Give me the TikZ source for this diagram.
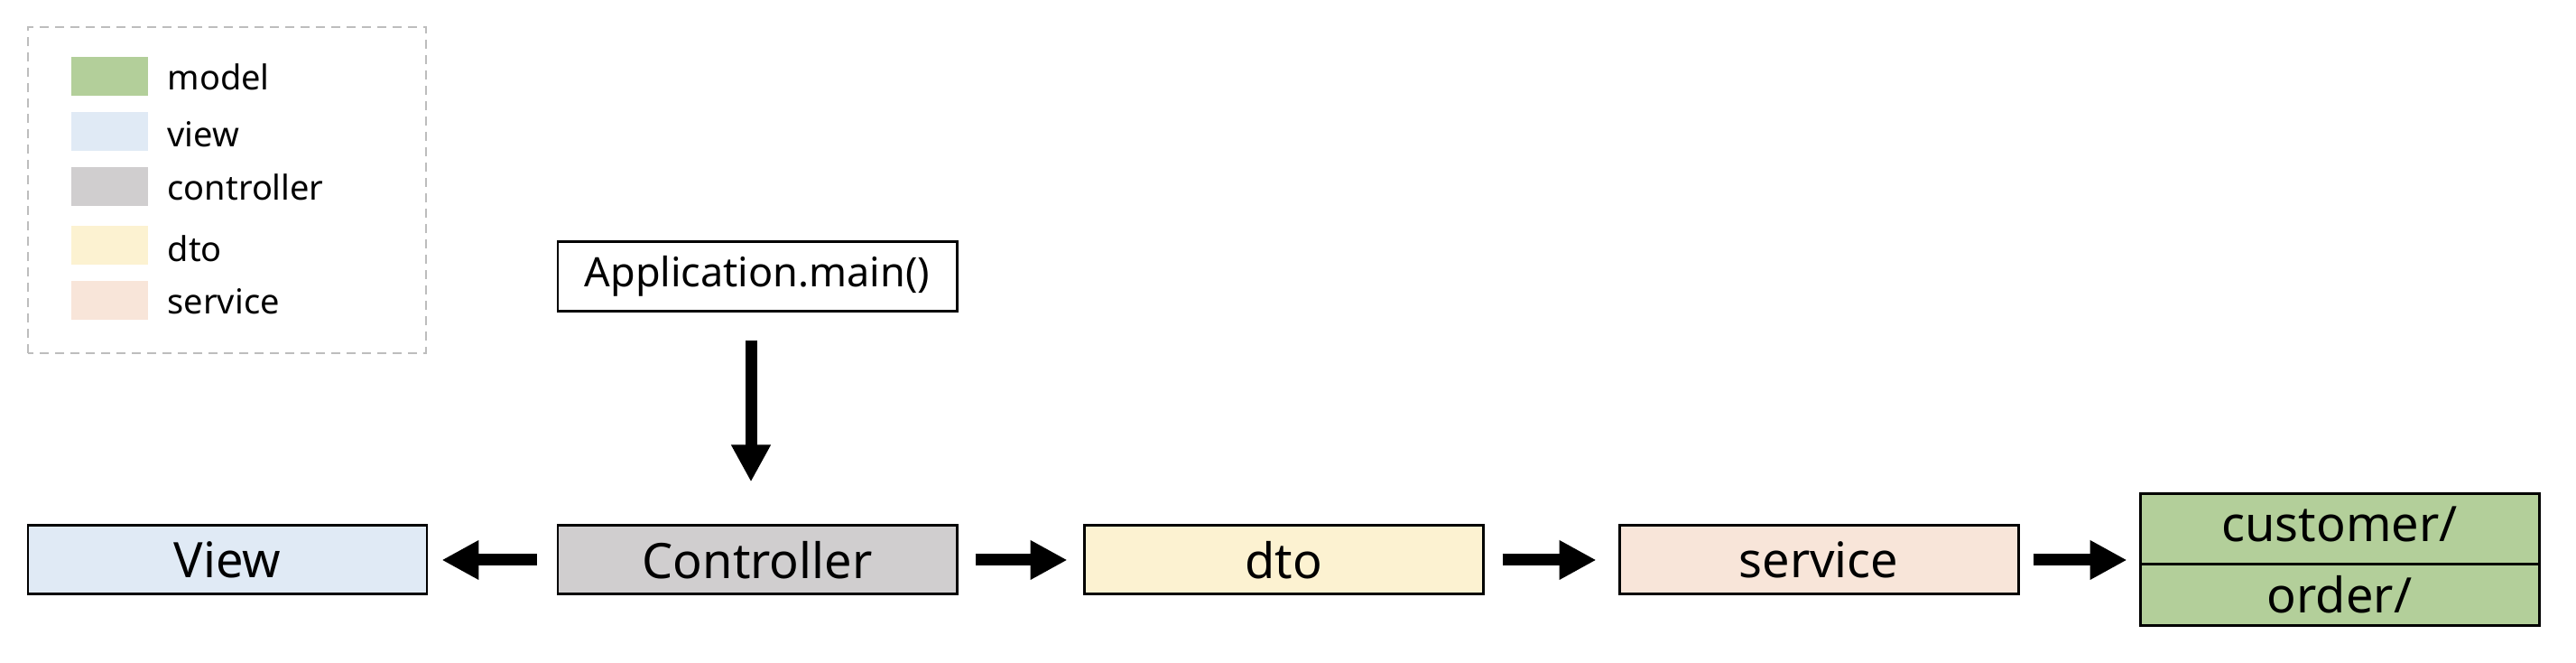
\documentclass[tikz,border=0pt]{standalone}
\usepackage{fontspec}
\setmainfont{Noto Sans}
\usetikzlibrary{arrows.meta,shapes.multipart}
\definecolor{modelc}{HTML}{B3CF9A}
\definecolor{viewc}{HTML}{E0EAF5}
\definecolor{ctrlc}{HTML}{D0CECF}
\definecolor{dtoc}{HTML}{FCF2D1}
\definecolor{servc}{HTML}{F8E5D9}
\definecolor{legframe}{HTML}{BDBDBD}

\begin{document}
\begin{tikzpicture}[>={Triangle[length=4.1mm,width=4.1mm]},
  box/.style={draw,line width=.85pt,minimum width=4.42cm,minimum height=.76cm,font=\fontsize{15.4}{18}\selectfont},
  swatch/.style={minimum width=.85cm,minimum height=.43cm,inner sep=0},
  legtext/.style={anchor=base west,inner sep=0,font=\fontsize{10.8}{13}\selectfont},
  flow/.style={->,line width=1.3mm,shorten <=1.9mm,shorten >=1.7mm}]
 \useasboundingbox (0,0) rectangle (28.54,7.34);
 % legend
 \draw[legframe,line width=.77pt,dash pattern=on 1mm off .7mm] (.31,3.43) rectangle (4.72,7.04);
 \node[swatch,fill=modelc] (lgmodel) at (1.215,6.495) {};
 \node[legtext] (lgmodeltxt) at (1.85,6.34) {model};
 \node[swatch,fill=viewc] (lgview) at (1.215,5.885) {};
 \node[legtext] (lgviewtxt) at (1.85,5.71) {view};
 \node[swatch,fill=ctrlc] (lgctrl) at (1.215,5.275) {};
 \node[legtext] (lgctrltxt) at (1.85,5.12) {controller};
 \node[swatch,fill=dtoc] (lgdto) at (1.215,4.625) {};
 \node[legtext] (lgdtotxt) at (1.85,4.445) {dto};
 \node[swatch,fill=servc] (lgserv) at (1.215,4.015) {};
 \node[legtext] (lgservtxt) at (1.85,3.86) {service};

 % flow
 \node[box,minimum height=.77cm,font=\fontsize{12.8}{15}\selectfont] (app) at (8.39,4.28) {Application.main()};
 \node[box,fill=viewc] (view) at (2.52,1.14) {View};
 \node[box,fill=ctrlc] (ctrl) at (8.39,1.14) {Controller};
 \node[box,fill=dtoc] (dto) at (14.22,1.14) {dto};
 \node[box,fill=servc] (serv) at (20.15,1.14) {service};
 \node[box,fill=modelc,rectangle split,rectangle split parts=2,minimum height=0pt,
   text width=4.2cm,align=center,inner xsep=.11cm,inner ysep=.117cm,
   text height=.4cm,text depth=.12cm] (model) at (25.92,1.145) {customer/\nodepart{two}order/};

 \draw[flow,shorten <=3.1mm,shorten >=4.7mm] ([xshift=-.07cm]app.south) -- ([xshift=-.07cm]ctrl.north);
 \draw[flow,shorten <=2.2mm,shorten >=1.5mm] (ctrl.west) -- (view.east);
 \draw[flow] (ctrl.east) -- (dto.west);
 \draw[flow,shorten <=2mm,shorten >=2.4mm] (dto.east) -- (serv.west);
 \draw[flow,shorten <=1.5mm,shorten >=1.3mm] (serv.east) -- (serv.east -| model.west);
\end{tikzpicture}
\end{document}
